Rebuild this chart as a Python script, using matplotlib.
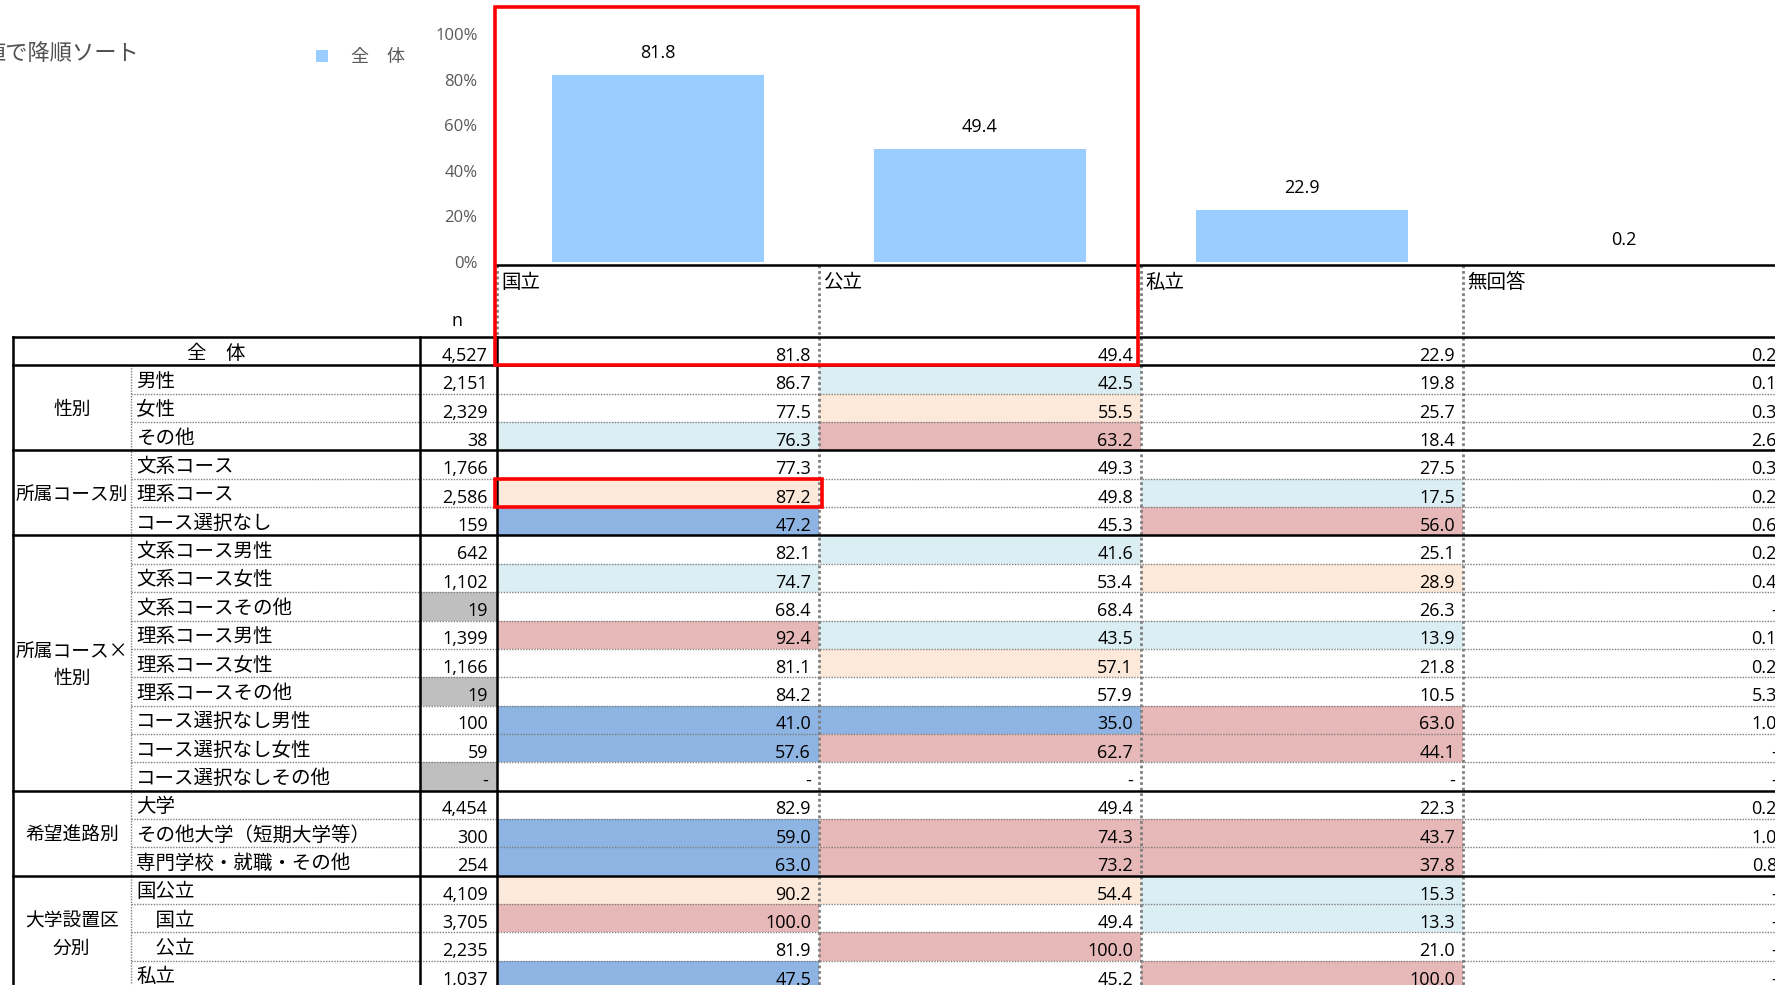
import matplotlib.pyplot as plt
import matplotlib.patches as mpatches
from matplotlib.ticker import FuncFormatter

plt.rcParams['font.family'] = ['Noto Sans CJK JP', 'DejaVu Sans']
NUM = ['Open Sans', 'DejaVu Sans']

# ---- data ----
title = "値で降順ソート"
legend_label = "全　体"
columns = ["国立", "公立", "私立", "無回答"]
overall = [81.8, 49.4, 22.9, 0.2]
overall_n = 4527

groups = ["性別", "所属コース別", "所属コース×\n性別", "希望進路別", "大学設置区\n分別"]
group_sizes = [3, 3, 9, 3, 4]

row_labels = ["男性", "女性", "その他",
              "文系コース", "理系コース", "コース選択なし",
              "文系コース男性", "文系コース女性", "文系コースその他",
              "理系コース男性", "理系コース女性", "理系コースその他",
              "コース選択なし男性", "コース選択なし女性", "コース選択なしその他",
              "大学", "その他大学（短期大学等）", "専門学校・就職・その他",
              "国公立", "\u3000国立", "\u3000公立", "私立"]
row_n = [2151, 2329, 38,
         1766, 2586, 159,
         642, 1102, 19, 1399, 1166, 19, 100, 59, None,
         4454, 300, 254,
         4109, 3705, 2235, 1037]
row_vals = [[86.7, 42.5, 19.8, 0.1],
            [77.5, 55.5, 25.7, 0.3],
            [76.3, 63.2, 18.4, 2.6],
            [77.3, 49.3, 27.5, 0.3],
            [87.2, 49.8, 17.5, 0.2],
            [47.2, 45.3, 56.0, 0.6],
            [82.1, 41.6, 25.1, 0.2],
            [74.7, 53.4, 28.9, 0.4],
            [68.4, 68.4, 26.3, None],
            [92.4, 43.5, 13.9, 0.1],
            [81.1, 57.1, 21.8, 0.2],
            [84.2, 57.9, 10.5, 5.3],
            [41.0, 35.0, 63.0, 1.0],
            [57.6, 62.7, 44.1, None],
            [None, None, None, None],
            [82.9, 49.4, 22.3, 0.2],
            [59.0, 74.3, 43.7, 1.0],
            [63.0, 73.2, 37.8, 0.8],
            [90.2, 54.4, 15.3, None],
            [100.0, 49.4, 13.3, None],
            [81.9, 100.0, 21.0, None],
            [47.5, 45.2, 100.0, None]]

# ---- layout (pixels) ----
W, H = 1775, 985
col_x0, col_w = 497, 322
x_left, x_grp, x_lab = 12.5, 131, 420
y_base, y_top100 = 262, 34
y_head = 265
y0, rh = 337, 28.35
JP = 14
GJP = 13.5
NS = 13

fig = plt.figure(figsize=(W / 100, H / 100), dpi=100)

# bar chart
bx = fig.add_axes([col_x0 / W, 1 - y_base / H, 4 * col_w / W, (y_base - y_top100) / H])
bars = bx.bar(range(len(columns)), overall, width=0.66, color='#99CCFF', label=legend_label)
for i, v in enumerate(overall):
    bx.annotate(f'{v:.1f}', (i, v), xytext=(0, 22), textcoords='offset pixels',
                ha='center', va='center', fontsize=NS, family=NUM)
bx.set_xlim(-0.5, len(columns) - 0.5)
bx.set_ylim(0, 100)
bx.set_yticks(range(0, 101, 20))
bx.yaxis.set_major_formatter(FuncFormatter(lambda v, p: f'{int(v)}%'))
bx.set_xticks([])
bx.tick_params(axis='y', length=0, pad=14, labelcolor='#595959', labelsize=12)
for t in bx.get_yticklabels():
    t.set_family(NUM)
for s in bx.spines.values():
    s.set_visible(False)
bx.legend(loc='center left', bbox_to_anchor=(316 / W, 1 - 57 / H), bbox_transform=fig.transFigure,
          frameon=False, fontsize=13, labelcolor='#595959', borderpad=0, borderaxespad=0,
          handlelength=0.66, handleheight=0.66, handletextpad=1.3)

# table overlay
ax = fig.add_axes([0, 0, 1, 1])
ax.set_xlim(0, W)
ax.set_ylim(H, 0)
ax.axis('off')
ax.patch.set_alpha(0)

ax.text(139, 54, title, ha='right', va='center', fontsize=16, color='#505050')
ax.text(457, 321, 'n', ha='center', va='center', fontsize=NS, family=NUM)
for i, c in enumerate(columns):
    ax.text(col_x0 + i * col_w + 4, 282, c, ha='left', va='center', fontsize=JP)

SOLID = dict(color='black', lw=1.8, zorder=3)
DOT = dict(color='#7f7f7f', lw=1.0, ls=(0, (1, 1)), zorder=2)


def cell_color(v, base):
    if v is None:
        return None
    d = round(v - base, 1)
    if d >= 10:
        return '#E6B8B7'
    if d >= 5:
        return '#FDE9D9'
    if d <= -10:
        return '#8DB4E2'
    if d <= -5:
        return '#DAEEF3'
    return None


def num(x, top, s):
    ax.text(x, top + rh - 4.5, s, ha='right', va='baseline', fontsize=NS, family=NUM)


# overall row
ax.text((x_left + x_lab) / 2, y0 + rh / 2 + 2, "全　体", ha='center', va='center', fontsize=JP)
num(col_x0 - 9, y0, f'{overall_n:,}')
for j, v in enumerate(overall):
    num(col_x0 + (j + 1) * col_w - 8, y0, f'{v:.1f}')

# detail rows
for r, (lab, n, vals) in enumerate(zip(row_labels, row_n, row_vals)):
    top = y0 + (r + 1) * rh
    ax.text(x_grp + 5, top + rh / 2 + 2, lab, ha='left', va='center', fontsize=JP)
    if n is None or n < 30:
        ax.add_patch(mpatches.Rectangle((x_lab, top), col_x0 - x_lab, rh, color='#BFBFBF', lw=0, zorder=1))
    num(col_x0 - 9, top, '-' if n is None else f'{n:,}')
    for j, v in enumerate(vals):
        fc = cell_color(v, overall[j]) if (n is not None and n >= 30) else None
        if fc:
            ax.add_patch(mpatches.Rectangle((col_x0 + j * col_w, top), col_w, rh, color=fc, lw=0, zorder=1))
        num(col_x0 + (j + 1) * col_w - 8, top, '-' if v is None else f'{v:.1f}')

# group labels and horizontal lines
ax.plot([x_left, W], [y0, y0], **SOLID)
ax.plot([x_left, W], [y0 + rh, y0 + rh], **SOLID)
start = 1
for g, size in zip(groups, group_sizes):
    gt = y0 + start * rh
    ax.text((x_left + x_grp) / 2, gt + size * rh / 2 + 2, g, ha='center', va='center',
            fontsize=GJP, linespacing=1.4)
    for k in range(1, size):
        ax.plot([x_grp, W], [gt + k * rh] * 2, **DOT)
    ax.plot([x_left, W], [gt + size * rh] * 2, **SOLID)
    start += size

# vertical lines
ax.plot([col_x0, W], [y_head, y_head], **SOLID)
ax.plot([x_left, x_left], [y0, H], **SOLID)
ax.plot([x_grp, x_grp], [y0 + rh, H], **DOT)
ax.plot([x_lab, x_lab], [y0, H], **SOLID)
ax.plot([col_x0, col_x0], [y0, H], **SOLID)
for j in range(0, len(columns)):
    ax.plot([col_x0 + j * col_w] * 2, [y_head, y0 if j == 0 else H], color='#7f7f7f', lw=2.0,
            ls=(0, (1, 1)), zorder=2)

# red highlight boxes
ax.add_patch(mpatches.Rectangle((495, 7), 1138 - 495, 365 - 7, fill=False, ec='#FF0000', lw=2.6, zorder=5))
ax.add_patch(mpatches.Rectangle((495, 479), 822 - 495, 507 - 479, fill=False, ec='#FF0000', lw=2.6, zorder=5))

fig.savefig('out.png', dpi=100)
